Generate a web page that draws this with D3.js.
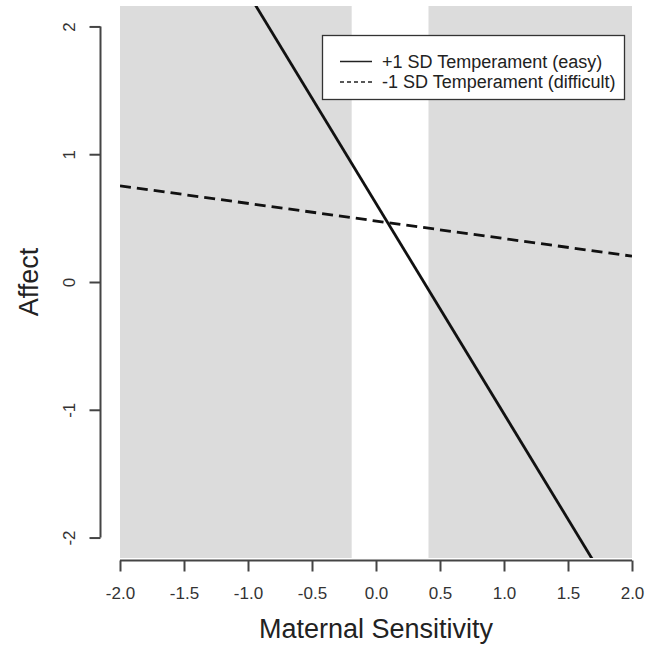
<!DOCTYPE html>
<html>
<head>
<meta charset="utf-8">
<script src="https://cdn.jsdelivr.net/npm/d3@7"></script>
<style>
	body { margin: 0; background: #fff; }
	text { font-family: "Liberation Sans", Arial, sans-serif; }
</style>
</head>
<body>
<script>
// x values where each line is read
const xPoints = [-2, 2];
// +1 SD temperament (easy), read at x = -2 and x = 2
const easyValues = [3.91, -2.68];
// -1 SD temperament (difficult)
const difficultValues = [0.753, 0.202];
// regions of significance (shaded)
const shadedRegions = [[-2, -0.19], [0.41, 2]];
const xTicks = [-2.0, -1.5, -1.0, -0.5, 0.0, 0.5, 1.0, 1.5, 2.0];
const yTicks = [-2, -1, 0, 1, 2];
const legendLabels = ["+1 SD Temperament (easy)", "-1 SD Temperament (difficult)"];

const w = 645;
const h = 654;

const xScale = d3.scaleLinear().domain([-2, 2]).range([120, 632]);
const yScale = d3.scaleLinear().domain([-2.16, 2.16]).range([558, 6]);

const svg = d3.select("body").append("svg").attr("width", w).attr("height", h);

// shaded regions
svg.selectAll("rect.shade")
	.data(shadedRegions)
	.enter()
	.append("rect")
	.attr("class", "shade")
	.attr("x", (d) => xScale(d[0]))
	.attr("y", yScale(2.16))
	.attr("width", (d) => xScale(d[1]) - xScale(d[0]))
	.attr("height", yScale(-2.16) - yScale(2.16))
	.attr("fill", "#dcdcdc");

// clip lines to plot area
svg.append("clipPath")
	.attr("id", "plotclip")
	.append("rect")
	.attr("x", xScale(-2))
	.attr("y", yScale(2.16))
	.attr("width", xScale(2) - xScale(-2))
	.attr("height", yScale(-2.16) - yScale(2.16));

const line = d3.line().x((d) => xScale(d[0])).y((d) => yScale(d[1]));

const series = [
	{ values: easyValues, dash: null },
	{ values: difficultValues, dash: "11,6" }
];

svg.selectAll("path.series")
	.data(series)
	.enter()
	.append("path")
	.attr("class", "series")
	.attr("clip-path", "url(#plotclip)")
	.attr("d", (s) => line(xPoints.map((x, i) => [x, s.values[i]])))
	.attr("fill", "none")
	.attr("stroke", "#111")
	.attr("stroke-width", 2.8)
	.attr("stroke-dasharray", (s) => s.dash);

// x axis
const xAxis = d3.axisBottom(xScale).tickValues(xTicks).tickSize(11).tickPadding(15);
const gx = svg.append("g")
	.attr("transform", "translate(0," + 560.5 + ")")
	.call(xAxis);
gx.select(".domain").remove();
gx.append("line")
	.attr("x1", xScale(-2)).attr("x2", xScale(2))
	.attr("stroke", "#444").attr("stroke-width", 2);
gx.selectAll(".tick line").attr("stroke", "#444").attr("stroke-width", 2);
gx.selectAll(".tick text")
	.attr("fill", "#333")
	.style("font-size", "17px")
	.style("font-family", "Liberation Sans, Arial, sans-serif")
	.text((d) => d3.format(".1f")(d).replace("−", "-"));

// y axis
const yAxis = d3.axisLeft(yScale).tickValues(yTicks).tickSize(11);
const gy = svg.append("g")
	.attr("transform", "translate(100.5,0)")
	.call(yAxis);
gy.select(".domain").remove();
gy.append("line")
	.attr("y1", yScale(-2)).attr("y2", yScale(2))
	.attr("stroke", "#444").attr("stroke-width", 2);
gy.selectAll(".tick line").attr("stroke", "#444").attr("stroke-width", 2);
gy.selectAll(".tick text")
	.attr("fill", "#333")
	.attr("x", 0).attr("dy", null)
	.attr("text-anchor", "middle")
	.attr("transform", "translate(-26,0) rotate(-90)")
	.attr("y", 0)
	.style("font-size", "17px")
	.style("font-family", "Liberation Sans, Arial, sans-serif")
	.text((d) => String(d).replace("−", "-"));

// axis titles
svg.append("text")
	.text("Maternal Sensitivity")
	.attr("x", (xScale(-2) + xScale(2)) / 2)
	.attr("y", 638)
	.attr("text-anchor", "middle")
	.attr("fill", "#222")
	.style("font-size", "27px");

svg.append("text")
	.text("Affect")
	.attr("transform", "translate(38," + yScale(0) + ") rotate(-90)")
	.attr("text-anchor", "middle")
	.attr("fill", "#222")
	.style("font-size", "27px");

// legend
const legend = svg.append("g");
legend.append("rect")
	.attr("x", 322.5).attr("y", 35.5)
	.attr("width", 302).attr("height", 64)
	.attr("fill", "#fff")
	.attr("stroke", "#333")
	.attr("stroke-width", 1.3);

const legendRows = legend.selectAll("g.row")
	.data(legendLabels)
	.enter()
	.append("g")
	.attr("class", "row")
	.attr("transform", (d, i) => "translate(0," + (61.5 + i * 20.5) + ")");

legendRows.append("line")
	.attr("x1", 340).attr("x2", 372)
	.attr("stroke", "#222")
	.attr("stroke-width", 1.5)
	.attr("stroke-dasharray", (d, i) => (i === 1 ? "4,3" : null));

legendRows.append("text")
	.text((d) => d)
	.attr("x", 382)
	.attr("dy", "0.35em")
	.attr("fill", "#222")
	.style("font-size", "18px");
</script>
</body>
</html>
